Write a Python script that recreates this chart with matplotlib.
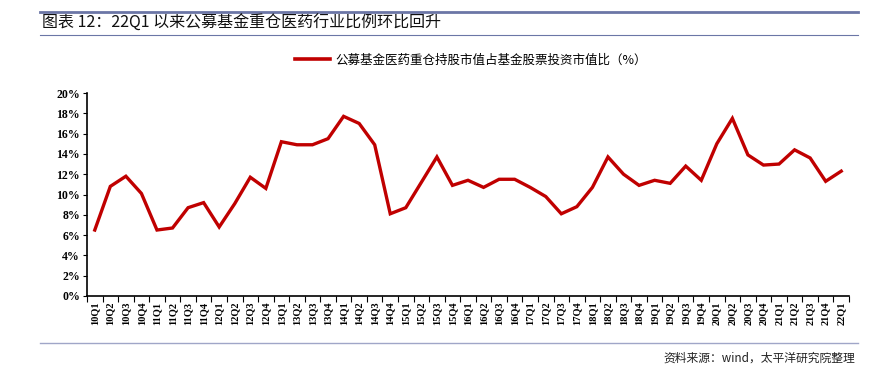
import numpy as np
import matplotlib.pyplot as plt
from matplotlib.ticker import FixedLocator, PercentFormatter

plt.rcParams['font.family'] = ['Noto Sans CJK SC', 'DejaVu Sans']

# === data ===
quarters = [f"{y:02d}Q{q}" for y in range(10, 22) for q in range(1, 5)] + ["22Q1"]
ratio = [6.5, 10.8, 11.8, 10.1,
         6.5, 6.7, 8.7, 9.2,
         6.8, 9.1, 11.7, 10.6,
         15.2, 14.9, 14.9, 15.5,
         17.7, 17.0, 14.9, 8.1,
         8.7, 11.2, 13.7, 10.9,
         11.4, 10.7, 11.5, 11.5,
         10.7, 9.8, 8.1, 8.8,
         10.7, 13.7, 12.0, 10.9,
         11.4, 11.1, 12.8, 11.4,
         15.0, 17.5, 13.9, 12.9,
         13.0, 14.4, 13.6, 11.3,
         12.3]
series_name = "公募基金医药重仓持股市值占基金股票投资市值比（%）"
title = "图表 12：22Q1 以来公募基金重仓医药行业比例环比回升"
source = "资料来源：wind，太平洋研究院整理"

W, H = 871, 367
fig = plt.figure(figsize=(W / 100, H / 100), dpi=100)

# header / footer rules
rule_c = "#6b76a6"
fig.add_artist(plt.Line2D([40 / W, 858 / W], [1 - 12 / H, 1 - 12 / H], color=rule_c, lw=2))
fig.add_artist(plt.Line2D([40 / W, 858 / W], [1 - 35 / H, 1 - 35 / H], color=rule_c, lw=0.8))
fig.add_artist(plt.Line2D([40 / W, 858 / W], [1 - 343 / H, 1 - 343 / H], color="#a0a6c8", lw=1))
fig.text(42 / W, 1 - 23 / H, title, fontsize=11.5, va="center", ha="left", color="#111111")
fig.text(855 / W, 1 - 358 / H, source, fontsize=8.5, va="center", ha="right", color="#222222")

ax = fig.add_axes([87 / W, 1 - 296 / H, (849 - 87) / W, (296 - 93) / H])
x = np.arange(len(quarters))
ax.plot(x, ratio, color="#c00000", lw=2.4, label=series_name, solid_joinstyle="miter")

ax.set_xlim(-0.5, len(quarters) - 0.5)
ax.set_ylim(0, 20)
ax.set_yticks(np.arange(0, 21, 2))
ax.yaxis.set_major_formatter(PercentFormatter(decimals=0))
ax.set_xticks(x)
ax.set_xticklabels(quarters, rotation=90, fontsize=7.5, fontweight="bold",
                   family="Liberation Serif")
ax.xaxis.set_minor_locator(FixedLocator(np.arange(-0.5, len(quarters), 1)))
ax.tick_params(axis="x", which="major", length=0, pad=4)
ax.tick_params(axis="x", which="minor", length=4, width=0.8, direction="out")
ax.tick_params(axis="y", length=3, width=0.8, direction="out", pad=2)
for lbl in ax.get_yticklabels():
    lbl.set_fontweight("bold")
    lbl.set_family("Liberation Serif")
    lbl.set_fontsize(8.5)

for s in ["top", "right"]:
    ax.spines[s].set_visible(False)
for s in ["left", "bottom"]:
    ax.spines[s].set_linewidth(1.2)

leg = fig.legend(loc="center", bbox_to_anchor=(471 / W, 1 - 60 / H), frameon=False,
                 fontsize=9, handlelength=2.8, handletextpad=0.4)
for line in leg.get_lines():
    line.set_linewidth(2.6)

fig.savefig("out.png", dpi=100)
